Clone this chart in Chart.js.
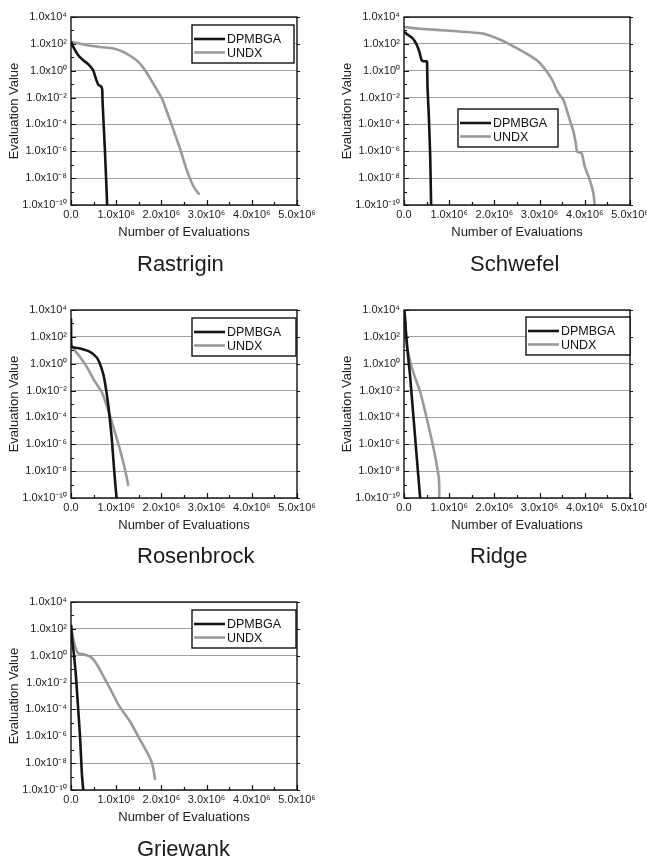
<!DOCTYPE html>
<html>
<head>
<meta charset="utf-8">
<script src="https://cdn.jsdelivr.net/npm/chart.js@4.4.1/dist/chart.umd.min.js"></script>
<style>
  html, body { margin: 0; padding: 0; background: #fff; overflow: hidden; }
  body { width: 647px; height: 860px; position: relative; font-family: "Liberation Sans", Arial, sans-serif; }
  canvas { position: absolute; }
  .fname { position: absolute; font-size: 22px; line-height: 22px; color: #1a1a1a; white-space: nowrap; }
</style>
</head>
<body>
<canvas id="c1" width="333" height="293" style="left:0;top:0"></canvas>
<canvas id="c2" width="314" height="293" style="left:333px;top:0"></canvas>
<canvas id="c3" width="333" height="293" style="left:0;top:293px"></canvas>
<canvas id="c4" width="314" height="293" style="left:333px;top:293px"></canvas>
<canvas id="c5" width="333" height="293" style="left:0;top:585px"></canvas>
<div class="fname" style="left:137px;top:253px">Rastrigin</div>
<div class="fname" style="left:470px;top:253px">Schwefel</div>
<div class="fname" style="left:137px;top:545px">Rosenbrock</div>
<div class="fname" style="left:470px;top:545px">Ridge</div>
<div class="fname" style="left:137px;top:838px">Griewank</div>
<script>
// series names
const seriesNames = ['DPMBGA', 'UNDX'];

// axis ticks
const xTickValues = [0, 1e6, 2e6, 3e6, 4e6, 5e6];
const xTickLabels = ['0.0', '1.0x10⁶', '2.0x10⁶', '3.0x10⁶', '4.0x10⁶', '5.0x10⁶'];
const yTickValues = [1e-10, 1e-8, 1e-6, 1e-4, 1e-2, 1e0, 1e2, 1e4];
const yTickLabels = ['1.0x10⁻¹⁰', '1.0x10⁻⁸', '1.0x10⁻⁶', '1.0x10⁻⁴', '1.0x10⁻²', '1.0x10⁰', '1.0x10²', '1.0x10⁴'];

// Rastrigin
const rastriginDpmbgaX = [0, 0.05e6, 0.16e6, 0.27e6, 0.38e6, 0.49e6, 0.55e6, 0.61e6, 0.66e6, 0.69e6, 0.70e6, 0.75e6, 0.80e6];
const rastriginDpmbgaY = [1.4e2, 5.9e1, 1.4e1, 6.0e0, 3.1e0, 1.1e0, 2.6e-1, 8.5e-2, 7.2e-2, 4.1e-2, 3.6e-3, 1.3e-6, 1e-10];
const rastriginUndxX = [0, 0.35e6, 0.64e6, 0.94e6, 1.16e6, 1.34e6, 1.49e6, 1.64e6, 1.82e6, 2.01e6, 2.19e6, 2.42e6, 2.56e6, 2.71e6, 2.84e6];
const rastriginUndxY = [1.4e2, 7.9e1, 5.9e1, 4.5e1, 2.5e1, 1.1e1, 4.6e0, 1.1e0, 1.1e-1, 8.7e-3, 2.1e-4, 1.3e-6, 4.1e-8, 2.4e-9, 5.8e-10];

// Schwefel
const schwefelDpmbgaX = [0, 0.07e6, 0.17e6, 0.27e6, 0.34e6, 0.39e6, 0.43e6, 0.49e6, 0.51e6, 0.52e6, 0.55e6, 0.58e6, 0.60e6];
const schwefelDpmbgaY = [7.8e2, 5.1e2, 3.0e2, 1.05e2, 2.5e1, 6.0e0, 5.1e0, 5.1e0, 4.6e0, 6.3e-2, 3.7e-4, 4e-7, 1e-10];
const schwefelUndxX = [0, 0.35e6, 1.09e6, 1.76e6, 2.12e6, 2.42e6, 2.71e6, 2.94e6, 3.08e6, 3.19e6, 3.30e6, 3.38e6, 3.45e6, 3.53e6, 3.60e6, 3.67e6, 3.75e6, 3.80e6, 3.83e6, 3.93e6, 4.00e6, 4.11e6, 4.19e6, 4.22e6];
const schwefelUndxY = [1.8e3, 1.35e3, 9.1e2, 5.8e2, 2.1e2, 6.6e1, 1.9e1, 6.0e0, 1.95e0, 6.2e-1, 1.5e-1, 3.5e-2, 1.5e-2, 6.5e-3, 1.2e-3, 2.1e-4, 2.9e-5, 3.9e-6, 9.5e-7, 7.1e-7, 7.2e-8, 7.4e-9, 7.6e-10, 1e-10];

// Rosenbrock
const rosenbrockDpmbgaX = [0, 0.005e6, 0.02e6, 0.2e6, 0.42e6, 0.57e6, 0.64e6, 0.72e6, 0.78e6, 0.83e6, 0.90e6, 0.95e6, 1.0e6, 1.01e6];
const rosenbrockDpmbgaY = [2.4e3, 3.2e1, 1.8e1, 1.35e1, 7.6e0, 2.9e0, 1.0e0, 1.4e-1, 1.0e-2, 5.9e-4, 3.3e-6, 1.9e-8, 1.9e-10, 1e-10];
const rosenbrockUndxX = [0, 0.05e6, 0.2e6, 0.35e6, 0.49e6, 0.61e6, 0.68e6, 0.79e6, 0.86e6, 0.97e6, 1.09e6, 1.2e6, 1.27e6];
const rosenbrockUndxY = [2.4e1, 1.35e1, 3.2e0, 5.8e-1, 7.8e-2, 1.8e-2, 7.8e-3, 7.8e-4, 1.4e-4, 7.9e-6, 3.4e-7, 1.1e-8, 8.1e-10];

// Ridge
const ridgeDpmbgaX = [0.01e6, 0.04e6, 0.07e6, 0.13e6, 0.24e6, 0.35e6, 0.36e6];
const ridgeDpmbgaY = [1e4, 3.2e2, 1.8e1, 1.8e-1, 5.9e-6, 1.9e-10, 1e-10];
const ridgeUndxX = [0.02e6, 0.04e6, 0.07e6, 0.13e6, 0.24e6, 0.35e6, 0.5e6, 0.65e6, 0.74e6, 0.77e6, 0.78e6, 0.78e6];
const ridgeUndxY = [3.2e3, 1.0e2, 1.8e1, 1.8e0, 1.0e-1, 1.0e-2, 1.0e-4, 6e-7, 1.4e-8, 3.4e-9, 6e-10, 1e-10];

// Griewank
const griewankDpmbgaX = [0, 0.03e6, 0.07e6, 0.11e6, 0.15e6, 0.2e6, 0.24e6, 0.27e6];
const griewankDpmbgaY = [2.0e2, 1.15e1, 8.9e-1, 2.9e-2, 2.9e-4, 9.5e-7, 1.7e-9, 1e-10];
const griewankUndxX = [0, 0.04e6, 0.09e6, 0.16e6, 0.31e6, 0.42e6, 0.53e6, 0.64e6, 0.86e6, 1.05e6, 1.31e6, 1.53e6, 1.75e6, 1.82e6, 1.86e6];
const griewankUndxY = [2.0e2, 2.8e1, 4.9e0, 1.55e0, 1.2e0, 8.9e-1, 3.7e-1, 8.9e-2, 3.8e-3, 2.2e-4, 1.2e-5, 5.4e-7, 2.3e-8, 4.1e-9, 5.5e-10];

const FONT = '"Liberation Sans", Arial, sans-serif';

function toPoints(xs, ys) {
  return xs.map((x, i) => ({ x: x, y: ys[i] }));
}

// frame, inward tick marks and boxed legend
const framePlugin = {
  id: 'frame',
  afterDatasetsDraw(chart, args, opts) {
    const ctx = chart.ctx;
    const a = chart.chartArea;
    const xs = chart.scales.x, ys = chart.scales.y;
    ctx.save();
    ctx.strokeStyle = '#111';
    ctx.lineWidth = 1.2;
    ctx.beginPath();
    for (let e = -10; e <= 4; e++) {
      const py = Math.round(ys.getPixelForValue(Math.pow(10, e))) + 0.5;
      const len = e % 2 === 0 ? 5 : 3;
      ctx.moveTo(a.left, py);
      ctx.lineTo(a.left + len, py);
      if (e % 2 === 0) {
        ctx.moveTo(a.right, py);
        ctx.lineTo(a.right + 3, py);
      }
    }
    for (let v = 0; v <= 5e6; v += 0.5e6) {
      const px = Math.round(xs.getPixelForValue(v)) + 0.5;
      const len = v % 1e6 === 0 ? 5 : 3;
      ctx.moveTo(px, a.bottom);
      ctx.lineTo(px, a.bottom - len);
    }
    ctx.stroke();
    ctx.lineWidth = 1.4;
    ctx.strokeRect(a.left, a.top, a.right - a.left, a.bottom - a.top);

    // legend box
    const lx = a.left + opts.x, ly = a.top + opts.y;
    ctx.fillStyle = '#fff';
    ctx.fillRect(lx, ly, opts.w, 38);
    ctx.strokeRect(lx, ly, opts.w, 38);
    ctx.font = '12.5px ' + FONT;
    ctx.textBaseline = 'middle';
    chart.data.datasets.forEach((ds, i) => {
      const yy = ly + 14 + i * 13.5;
      ctx.strokeStyle = ds.borderColor;
      ctx.lineWidth = ds.borderWidth;
      ctx.beginPath();
      ctx.moveTo(lx + 2, yy);
      ctx.lineTo(lx + 33, yy);
      ctx.stroke();
      ctx.fillStyle = '#111';
      ctx.fillText(ds.label, lx + 35, yy + 1);
    });
    ctx.restore();
  }
};

function makePanel(id, dpmX, dpmY, undxX, undxY, legendPos) {
  const canvas = document.getElementById(id);
  new Chart(canvas, {
    type: 'line',
    data: {
      datasets: [{
        label: seriesNames[0],
        data: toPoints(dpmX, dpmY),
        borderColor: '#151515',
        borderWidth: 2.6,
        pointRadius: 0,
        tension: 0.15
      }, {
        label: seriesNames[1],
        data: toPoints(undxX, undxY),
        borderColor: '#9a9a9a',
        borderWidth: 2.6,
        pointRadius: 0,
        tension: 0.15
      }]
    },
    options: {
      responsive: false,
      animation: false,
      events: [],
      layout: { padding: { top: 17, right: canvas.width - 297, left: 0, bottom: 43 } },
      plugins: {
        legend: { display: false },
        title: { display: false },
        tooltip: { enabled: false },
        frame: legendPos
      },
      scales: {
        x: {
          type: 'linear',
          min: 0,
          max: 5e6,
          afterBuildTicks: (s) => { s.ticks = xTickValues.map(v => ({ value: v })); },
          afterFit: (s) => { s.height = 45; s.paddingLeft = 0; s.paddingRight = 0; },
          grid: { display: false, drawTicks: false },
          border: { display: false },
          ticks: {
            autoSkip: false,
            maxRotation: 0,
            minRotation: 0,
            padding: 3,
            color: '#222',
            font: { family: FONT, size: 11 },
            callback: (v, i) => xTickLabels[i]
          },
          title: {
            display: true,
            text: 'Number of Evaluations',
            color: '#222',
            font: { family: FONT, size: 13 },
            padding: { top: 0, bottom: 10 }
          }
        },
        y: {
          type: 'logarithmic',
          min: 1e-10,
          max: 1e4,
          afterBuildTicks: (s) => { s.ticks = yTickValues.map(v => ({ value: v })); },
          afterFit: (s) => { s.width = 71; s.paddingTop = 0; s.paddingBottom = 0; },
          grid: { color: '#a0a0a0', lineWidth: 1, drawTicks: false },
          border: { display: false },
          ticks: {
            autoSkip: false,
            padding: 4,
            color: '#222',
            font: { family: FONT, size: 11 },
            callback: (v, i) => yTickLabels[i]
          },
          title: {
            display: true,
            text: 'Evaluation Value',
            color: '#222',
            font: { family: FONT, size: 13 },
            padding: { top: 7, bottom: 0 }
          }
        }
      }
    },
    plugins: [framePlugin]
  });
}

makePanel('c1', rastriginDpmbgaX, rastriginDpmbgaY, rastriginUndxX, rastriginUndxY, { x: 121, y: 8, w: 102 });
makePanel('c2', schwefelDpmbgaX, schwefelDpmbgaY, schwefelUndxX, schwefelUndxY, { x: 54, y: 92, w: 100 });
makePanel('c3', rosenbrockDpmbgaX, rosenbrockDpmbgaY, rosenbrockUndxX, rosenbrockUndxY, { x: 121, y: 8, w: 104 });
makePanel('c4', ridgeDpmbgaX, ridgeDpmbgaY, ridgeUndxX, ridgeUndxY, { x: 122, y: 7, w: 104 });
makePanel('c5', griewankDpmbgaX, griewankDpmbgaY, griewankUndxX, griewankUndxY, { x: 121, y: 8, w: 104 });
</script>
</body>
</html>
